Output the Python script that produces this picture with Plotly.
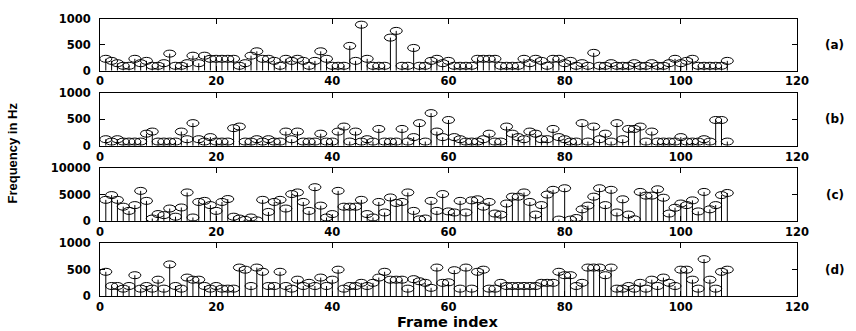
import plotly.graph_objects as go

frames = list(range(1, 109))

freq_a = [230,190,145,95,95,230,145,190,95,95,
          145,330,95,95,145,290,145,290,230,230,
          230,230,230,95,145,290,375,230,230,190,
          95,230,190,230,190,95,190,375,230,95,
          95,95,480,190,890,230,95,95,95,640,
          770,95,95,440,95,95,190,230,145,190,
          95,95,95,95,230,230,230,230,95,95,
          95,95,230,145,230,190,95,230,230,145,
          190,95,145,95,345,95,95,145,95,95,
          95,145,95,95,145,95,95,145,230,145,
          190,230,95,95,95,95,95,190]

freq_b = [125,80,125,80,80,80,80,230,270,80,
          80,80,80,270,125,430,125,80,165,80,
          80,80,335,365,80,80,125,80,125,80,
          80,270,125,270,80,80,80,230,80,80,
          270,365,80,270,80,125,80,320,80,80,
          80,320,80,165,430,80,620,270,165,490,
          165,125,80,80,80,125,230,80,80,365,
          230,165,125,270,230,125,125,320,165,125,
          80,80,430,80,365,125,230,80,430,125,
          320,320,365,80,270,80,80,80,80,165,
          80,80,80,125,80,490,490,80]

freq_c = [4000,4900,4000,2700,1900,3000,5700,3800,450,1300,
          1100,2350,800,2550,5400,650,3600,3800,3000,1900,
          3600,4150,800,450,200,650,100,4000,1700,3600,
          4000,2350,5100,5400,3600,1900,6400,2900,650,1300,
          5700,2700,2700,2700,4000,1300,650,3600,1600,4450,
          3400,3600,5400,1900,300,450,3800,1900,5100,1800,
          1600,3800,1600,3900,4100,2700,3600,1400,1200,3300,
          4600,4600,5400,3600,1200,3000,5000,5900,250,6200,
          250,550,2200,2900,4600,6200,3000,5900,1600,4100,
          1200,300,5500,4800,4800,6000,4400,1400,2500,3300,
          3000,3900,1800,5500,2200,3000,4900,5300]

freq_d = [460,190,190,140,190,395,140,190,140,310,
          140,600,190,140,350,310,310,190,140,190,
          140,140,140,540,500,190,540,460,190,190,
          460,190,140,310,190,250,190,350,190,310,
          500,140,190,190,250,190,250,350,460,310,
          310,310,140,320,280,250,155,540,250,260,
          490,140,540,140,460,500,140,140,250,190,
          190,190,190,190,190,250,250,250,460,395,
          395,190,250,540,540,540,395,540,140,140,
          190,140,250,140,310,190,350,250,190,500,
          500,310,140,700,310,140,460,500]

panel_labels = ["(a)", "(b)", "(c)", "(d)"]
y_ranges = [[0, 1000], [0, 1000], [0, 10000], [0, 1000]]
y_ticks = [[0, 500, 1000], [0, 500, 1000], [0, 5000, 10000], [0, 500, 1000]]
x_ticks = [0, 20, 40, 60, 80, 100, 120]
x_title = "Frame index"
y_title = "Frequency in Hz"

series = [freq_a, freq_b, freq_c, freq_d]

W, H = 856, 331
ML, MR, MT, MB = 100, 59, 12, 35
domains = [[0.8134, 1.0], [0.5423, 0.7324], [0.2711, 0.4613], [0.0, 0.1901]]

FONT = "DejaVu Sans"
fig = go.Figure()
shapes = []
annotations = []

for k, vals in enumerate(series):
    sfx = "" if k == 0 else str(k + 1)
    xs, ys = [], []
    for f, v in zip(frames, vals):
        xs += [f, f, None]
        ys += [0, v, None]
    fig.add_trace(go.Scatter(x=xs, y=ys, mode="lines",
                             line=dict(color="black", width=1),
                             xaxis="x" + sfx, yaxis="y" + sfx,
                             showlegend=False, hoverinfo="skip"))
    for f, v in zip(frames, vals):
        shapes.append(dict(type="circle", xref="x" + sfx, yref="y" + sfx,
                           xsizemode="pixel", ysizemode="pixel",
                           xanchor=f, yanchor=v,
                           x0=-6, x1=6, y0=-3.5, y1=3.5,
                           line=dict(color="black", width=1),
                           fillcolor="rgba(0,0,0,0)", layer="above"))
    axis_common = dict(showline=True, linecolor="black", linewidth=1,
                       mirror="allticks", ticks="inside", ticklen=5,
                       tickcolor="black", showgrid=False, zeroline=False,
                       tickfont=dict(family=FONT, size=11.5, color="black",
                                     weight="bold"))
    fig.layout["xaxis" + sfx] = dict(axis_common, domain=[0, 1],
                                     range=[0, 120], tickvals=x_ticks,
                                     ticktext=[str(t) for t in x_ticks],
                                     anchor="y" + sfx, ticklabelstandoff=0)
    fig.layout["yaxis" + sfx] = dict(axis_common, domain=domains[k],
                                     range=y_ranges[k], tickvals=y_ticks[k],
                                     ticktext=[str(t) for t in y_ticks[k]],
                                     anchor="x" + sfx, ticklabelstandoff=6)
    annotations.append(dict(text=panel_labels[k], xref="paper", yref="paper",
                            x=1.054, y=(domains[k][0] + domains[k][1]) / 2,
                            showarrow=False, xanchor="center", yanchor="middle",
                            font=dict(family=FONT, size=12, color="black",
                                      weight="bold")))

annotations.append(dict(text=x_title, xref="paper", yref="paper",
                        x=0.498, y=-0.095, showarrow=False,
                        xanchor="center", yanchor="middle",
                        font=dict(family=FONT, size=14.5, color="black",
                                  weight="bold")))
annotations.append(dict(text=y_title, xref="paper", yref="paper",
                        x=-0.126, y=0.515, showarrow=False, textangle=-90,
                        xanchor="center", yanchor="middle",
                        font=dict(family="Liberation Sans", size=13,
                                  color="black", weight="bold")))

fig.update_layout(width=W, height=H,
                  margin=dict(l=ML, r=MR, t=MT, b=MB, pad=0),
                  paper_bgcolor="white", plot_bgcolor="white",
                  shapes=shapes, annotations=annotations,
                  showlegend=False)

fig.write_html("out.html")
